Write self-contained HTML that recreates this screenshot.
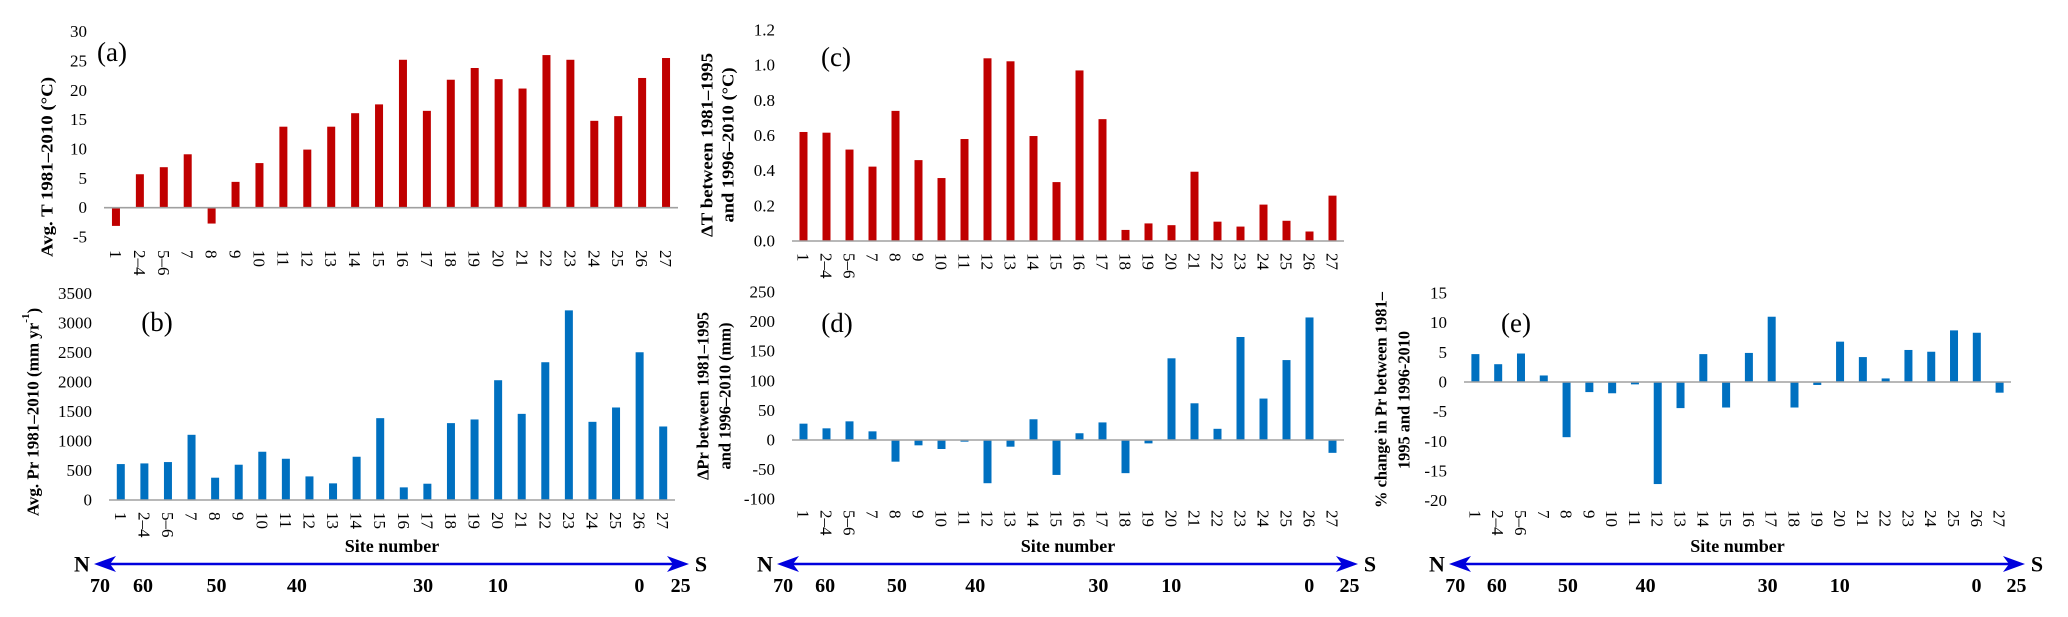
<!DOCTYPE html>
<html><head><meta charset="utf-8">
<style>
html,body{margin:0;padding:0;background:#fff;}
svg, svg text{font-family:"Liberation Serif","Times New Roman",serif;}
svg{display:block;}
</style></head>
<body>
<svg id="fig" width="2068" height="617" viewBox="0 0 2068 617" font-family="Liberation Serif, serif" xmlns="http://www.w3.org/2000/svg"></svg>
<script>
const categories = ["1","2–4","5–6","7","8","9","10","11","12","13","14","15","16","17","18","19","20","21","22","23","24","25","26","27"];
const avgT = [-3.1,5.7,6.9,9.1,-2.7,4.4,7.6,13.8,9.9,13.8,16.1,17.6,25.2,16.5,21.8,23.8,21.9,20.3,26.0,25.2,14.8,15.6,22.1,25.5];
const avgPr = [609,620,643,1105,378,598,818,699,400,282,733,1387,214,276,1303,1365,2030,1460,2335,3214,1325,1568,2504,1246];
const deltaT = [0.62,0.616,0.52,0.423,0.74,0.46,0.358,0.58,1.039,1.022,0.597,0.335,0.97,0.693,0.063,0.10,0.09,0.394,0.11,0.082,0.207,0.115,0.054,0.258];
const deltaPr = [27.6,19.7,31.5,14.6,-36.6,-9,-15.2,-2.8,-73,-11.3,35,-59,11.4,29.7,-56,-5.7,138,62,18.9,174,70,135,207,-21.7];
const pctPr = [4.7,3.0,4.8,1.1,-9.3,-1.7,-1.9,-0.4,-17.2,-4.4,4.7,-4.3,4.9,11.0,-4.3,-0.5,6.8,4.2,0.6,5.4,5.1,8.7,8.3,-1.8];
const ticksA = [30,25,20,15,10,5,0,-5];
const ticksB = [3500,3000,2500,2000,1500,1000,500,0];
const ticksC = [1.2,1.0,0.8,0.6,0.4,0.2,0.0];
const ticksD = [250,200,150,100,50,0,-50,-100];
const ticksE = [15,10,5,0,-5,-10,-15,-20];
const latLabels = ["70","60","50","40","30","10","0","25"];
const latFrac = [-0.016,0.06,0.19,0.332,0.555,0.687,0.937,1.01];

const NS="http://www.w3.org/2000/svg";
const FF="Liberation Serif, Times New Roman, serif";
const svg=document.getElementById('fig');
function mk(tag,attrs,parent){const e=document.createElementNS(NS,tag);for(const k in attrs)e.setAttribute(k,attrs[k]);if(tag==='text')e.setAttribute('font-family',FF);(parent||svg).appendChild(e);return e;}

const panels=[
 {id:'a',vals:avgT,ticks:ticksA,dec:0,x0:104,x1:678,y0:207.7,vTop:30,yTop:31.6,tickR:87,catTop:250,color:'#c00000',
  lbl:[112,52],title:[{x:47,t:"Avg. T 1981–2010 (°C)",len:180}],titleY:167,site:false},
 {id:'b',vals:avgPr,ticks:ticksB,dec:0,x0:109,x1:675,y0:500,vTop:3500,yTop:293.5,tickR:92,catTop:512,color:'#0070c0',
  lbl:[157,322],title:null,titleY:412,site:true},
 {id:'c',vals:deltaT,ticks:ticksC,dec:1,x0:792,x1:1344,y0:241,vTop:1.2,yTop:30,tickR:775,catTop:253,color:'#c00000',
  lbl:[836,57],title:[{x:707,t:"ΔT between 1981–1995",len:184},{x:728,t:"and 1996–2010 (°C)",len:155}],titleY:145,site:false},
 {id:'d',vals:deltaPr,ticks:ticksD,dec:0,x0:792,x1:1344,y0:440,vTop:250,yTop:292,tickR:775,catTop:510,color:'#0070c0',
  lbl:[837,323],title:[{x:703,t:"ΔPr between 1981–1995",len:168},{x:725,t:"and 1996–2010 (mm)",len:147}],titleY:396,site:true},
 {id:'e',vals:pctPr,ticks:ticksE,dec:0,x0:1464,x1:2011,y0:382,vTop:15,yTop:293,tickR:1447,catTop:510,color:'#0070c0',
  lbl:[1516,323],title:[{x:1381,t:"% change in Pr between 1981–",len:216},{x:1404,t:"1995 and 1996-2010",len:138}],titleY:400,site:true}
];

panels.forEach(p=>{
  const g=mk('g',{});
  
  
  const k=(p.y0-p.yTop)/p.vTop;
  const y=v=>p.y0-v*k;
  const band=(p.x1-p.x0)/categories.length;
  const xc=i=>p.x0+(i+0.5)*band;
  p.ticks.forEach(t=>{
    const tx=mk('text',{x:p.tickR,y:y(t),'text-anchor':'end','dominant-baseline':'central','font-size':17,fill:'#000'},g);
    
    
    tx.textContent=p.dec?t.toFixed(p.dec):String(t);
  });
  p.vals.forEach((v,i)=>{
    const bw=8;
    const r=mk('rect',{x:xc(i)-bw/2,y:Math.min(y(v),y(0)),width:bw,height:Math.abs(y(v)-y(0)),fill:p.color},g);
    
    
  });
  const ax=mk('line',{x1:p.x0,x2:p.x1,y1:y(0),y2:y(0),stroke:'#a0a0a0','stroke-width':1.6},g);
  
  
  categories.forEach((c,i)=>{
    const cx=xc(i)-6, cy=p.catTop;
    const tx=mk('text',{x:cx,y:cy,transform:`rotate(90 ${cx} ${cy})`,'font-size':17,fill:'#000'},g);
    
    
    tx.textContent=c;
  });
  const pl=mk('text',{x:p.lbl[0],y:p.lbl[1],'text-anchor':'middle','dominant-baseline':'central','font-size':27,fill:'#000'},g);
  
  
  pl.textContent='('+p.id+')';
  if(p.title){
    p.title.forEach((ln,j)=>{
      const t=mk('text',{x:ln.x,y:p.titleY,transform:`rotate(-90 ${ln.x} ${p.titleY})`,'text-anchor':'middle','dominant-baseline':'central','font-size':17,'font-weight':'bold',textLength:ln.len,lengthAdjust:'spacingAndGlyphs',fill:'#000'},g);
      
      
      t.textContent=ln.t;
    });
  } else {
    const tx=33, ty=p.titleY;
    const t=mk('text',{x:tx,y:ty,transform:`rotate(-90 ${tx} ${ty})`,'text-anchor':'middle','dominant-baseline':'central','font-size':17,'font-weight':'bold',fill:'#000'},g);
    
    
    t.appendChild(document.createTextNode('Avg. Pr 1981–2010 (mm yr'));
    const sup=mk('tspan',{'font-size':11,dy:-7},t);
    sup.textContent='-1';
    const rest=mk('tspan',{dy:7},t);
    rest.textContent=')';
  }
  if(p.site){
    const mid=(p.x0+p.x1)/2;
    const s=mk('text',{x:mid,y:546,'text-anchor':'middle','dominant-baseline':'central','font-size':18,'font-weight':'bold',fill:'#000'},g);
    
    
    s.textContent='Site number';
    const ay=564, tl=p.x0-15, tr=p.x1+14;
    const ln=mk('line',{x1:tl+10,x2:tr-10,y1:ay,y2:ay,stroke:'#0000dd','stroke-width':2.5},g);
    
    
    const hl=mk('polygon',{points:`${tl},${ay} ${tl+22},${ay-8} ${tl+16},${ay} ${tl+22},${ay+8}`,fill:'#0000dd'},g);
    
    
    const hr=mk('polygon',{points:`${tr},${ay} ${tr-22},${ay-8} ${tr-16},${ay} ${tr-22},${ay+8}`,fill:'#0000dd'},g);
    
    
    const n=mk('text',{x:p.x0-27,y:ay,'text-anchor':'middle','dominant-baseline':'central','font-size':22,'font-weight':'bold',fill:'#000'},g);
    
    
    n.textContent='N';
    const so=mk('text',{x:p.x1+26,y:ay,'text-anchor':'middle','dominant-baseline':'central','font-size':22,'font-weight':'bold',fill:'#000'},g);
    
    
    so.textContent='S';
    latLabels.forEach((l,i)=>{
      const t=mk('text',{x:p.x0+latFrac[i]*(p.x1-p.x0),y:586,'text-anchor':'middle','dominant-baseline':'central','font-size':20,'font-weight':'bold',fill:'#000'},g);
      
      
      t.textContent=l;
    });
  }
});
</script>
</body></html>
